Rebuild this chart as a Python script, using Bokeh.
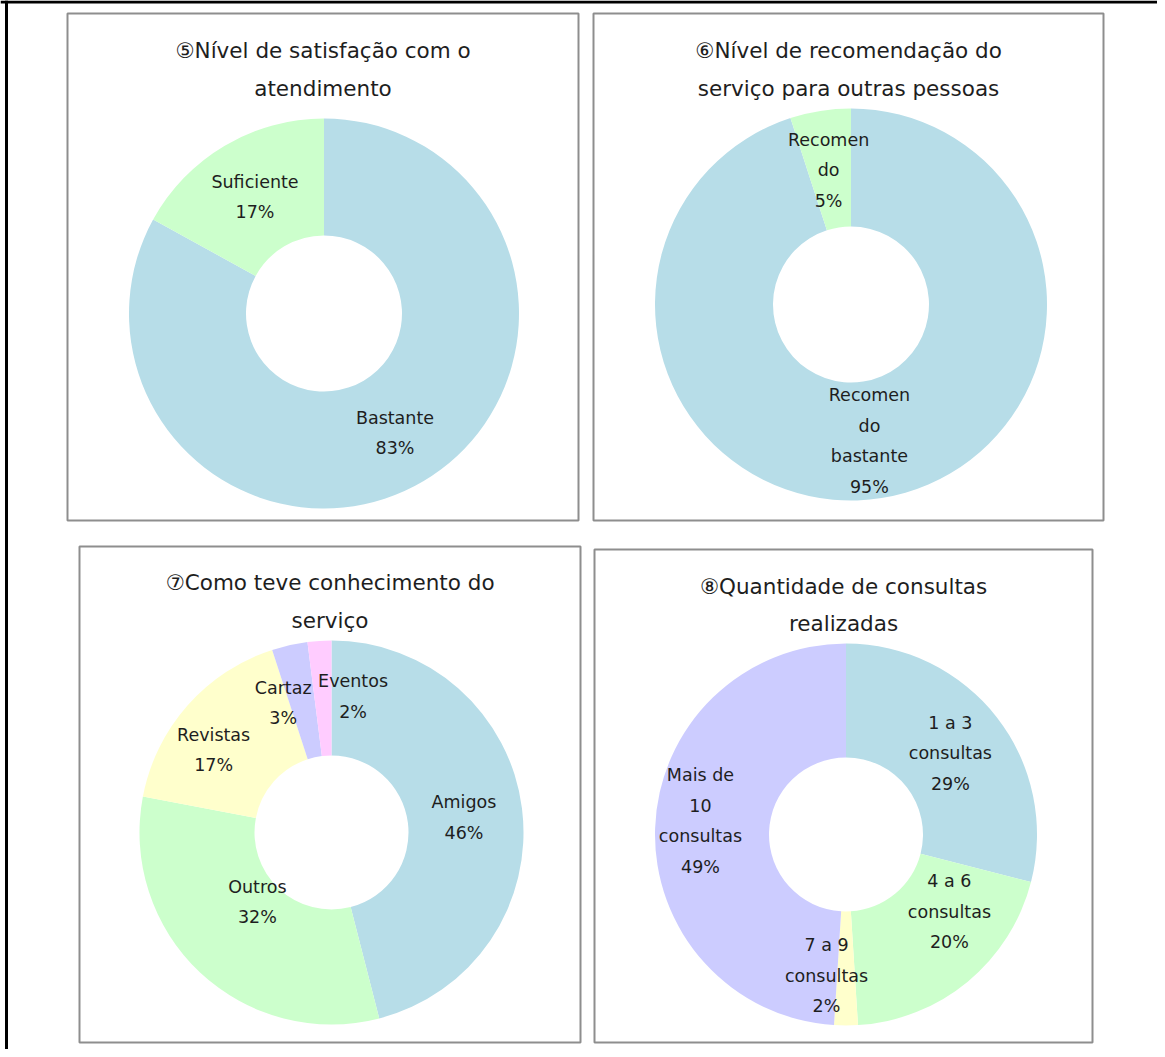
import math
from bokeh.plotting import figure
from bokeh.models import Range1d, ColumnDataSource
from bokeh.core.properties import value
from bokeh.embed import file_html
from bokeh.resources import INLINE

# ---------------- data ----------------
sat_title = ["⑤Nível de satisfação com o", "atendimento"]
sat_labels = ["Bastante", "Suficiente"]
sat_values = [83, 17]

rec_title = ["⑥Nível de recomendação do", "serviço para outras pessoas"]
rec_labels = ["Recomen\ndo\nbastante", "Recomen\ndo"]
rec_values = [95, 5]

know_title = ["⑦Como teve conhecimento do", "serviço"]
know_labels = ["Amigos", "Outros", "Revistas", "Cartaz", "Eventos"]
know_values = [46, 32, 17, 3, 2]

qty_title = ["⑧Quantidade de consultas", "realizadas"]
qty_labels = ["1 a 3\nconsultas", "4 a 6\nconsultas", "7 a 9\nconsultas", "Mais de\n10\nconsultas"]
qty_values = [29, 20, 2, 49]

# ---------------- styles / layout ----------------
PALETTE = ["#b7dde8", "#ccffcc", "#ffffcc", "#ccccff", "#ffccff"]
FONT = "DejaVu Sans"
TEXT_COLOR = "#1e1e1e"

W, H = 1157, 1049
OX, OY = 0, 0


def sy(y):
    return (OY + H) - y


charts = [
    dict(title=sat_title, labels=sat_labels, values=sat_values,
         box=(67, 13, 578, 520), c=(323.5, 313), ro=195, ri=78,
         ty=(50, 88), nudge=[(1.5, 2), (0.5, 1)]),
    dict(title=rec_title, labels=rec_labels, values=rec_values,
         box=(593, 13, 1103, 520), c=(850.5, 304), ro=196, ri=78,
         ty=(50, 88), nudge=[(-3, 1), (-1, 1)]),
    dict(title=know_title, labels=know_labels, values=know_values,
         box=(79, 546, 580, 1042), c=(331, 832), ro=192, ri=77,
         ty=(582, 620), nudge=[(-1, 2), (18, -28.5), (-17, 6.5), (-19, 2), (30, -2)]),
    dict(title=qty_title, labels=qty_labels, values=qty_values,
         box=(594, 549, 1092, 1042), c=(845.5, 834), ro=191, ri=77,
         ty=(586, 623), nudge=[(-1.5, 1), (18, -26), (-19.5, 7), (-11.6, -9.5)]),
]

p = figure(width=W, height=H, x_range=Range1d(OX, OX + W), y_range=Range1d(0, H),
           output_backend="svg", toolbar_location=None, min_border=0)
p.axis.visible = False
p.grid.visible = False
p.outline_line_color = None
p.background_fill_color = "white"
p.border_fill_color = "white"

# outer black frame (top and left)
p.segment(x0=[OX, 6], y0=[sy(1.5), sy(0)], x1=[OX + W, 6], y1=[sy(1.5), sy(H)],
          line_color="black", line_width=3)

LINE_H = 30.5

for ch in charts:
    l, t, r, b = ch["box"]
    p.quad(left=[l], right=[r], top=[sy(t)], bottom=[sy(b)], fill_color=None,
           line_color="#8e8e8e", line_width=2)

    cx, cy = ch["c"]
    vals = ch["values"]
    total = float(sum(vals))
    starts, ends, mids = [], [], []
    cum = 0.0
    for v in vals:
        f0 = cum / total
        cum += v
        f1 = cum / total
        starts.append(math.pi / 2 - 2 * math.pi * f0)
        ends.append(math.pi / 2 - 2 * math.pi * f1)
        mids.append((f0 + f1) / 2)
    n = len(vals)
    src = ColumnDataSource(dict(x=[cx] * n, y=[sy(cy)] * n, s=starts, e=ends,
                                color=PALETTE[:n]))
    p.annular_wedge(x="x", y="y", inner_radius=ch["ri"], outer_radius=ch["ro"],
                    start_angle="s", end_angle="e", direction="clock",
                    fill_color="color", line_color=None, source=src)

    # labels
    rl = (ch["ri"] + ch["ro"]) / 2
    tx, ty, tt = [], [], []
    for lab, v, m, (dx, dy) in zip(ch["labels"], vals, mids, ch["nudge"]):
        th = 2 * math.pi * m
        lx = cx + rl * math.sin(th) + dx
        ly = cy - rl * math.cos(th) + dy
        lines = lab.split("\n") + [f"{v}%"]
        k = len(lines)
        for i, s in enumerate(lines):
            tx.append(lx)
            ty.append(sy(ly + (i - (k - 1) / 2) * LINE_H))
            tt.append(s)
    p.text(x=tx, y=ty, text=tt, text_align="center", text_baseline="middle",
           text_font=value(FONT), text_font_size="17.5px", text_color=TEXT_COLOR)

    # title
    tcx = (l + r) / 2
    p.text(x=[tcx, tcx], y=[sy(ch["ty"][0]), sy(ch["ty"][1])], text=ch["title"],
           text_align="center", text_baseline="middle",
           text_font=value(FONT), text_font_size="21.5px", text_color=TEXT_COLOR)

open("out.html", "w").write(file_html(p, INLINE))
